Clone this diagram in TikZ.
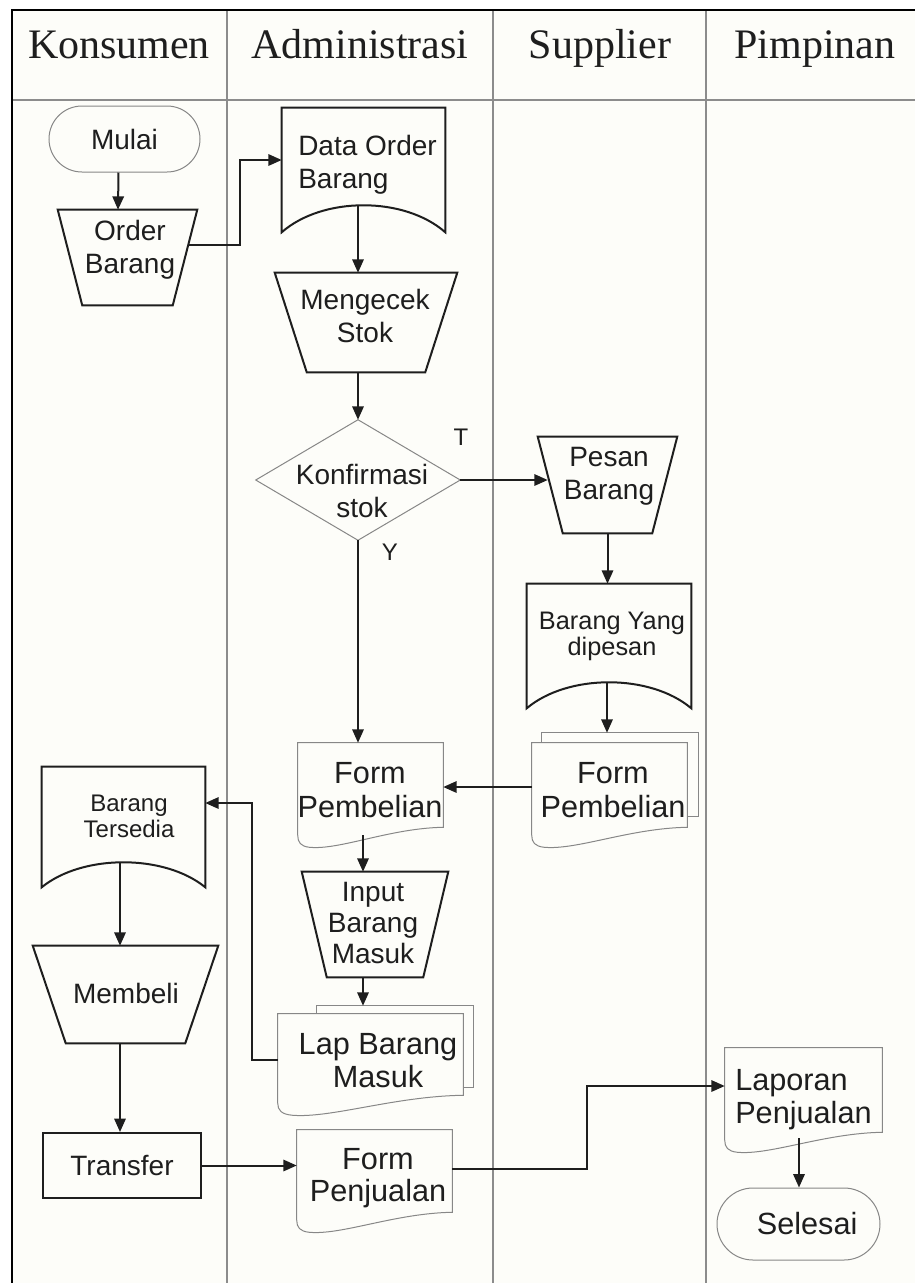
\documentclass[tikz,border=0pt]{standalone}
\usepackage{fontspec}
\setmainfont{Liberation Serif}
\newfontfamily\arialf{Liberation Sans}
\usetikzlibrary{arrows.meta,calc,shapes.misc}
\definecolor{ink}{RGB}{30,30,30}
\definecolor{thingray}{RGB}{135,135,135}
\definecolor{lanegray}{RGB}{140,140,140}
\definecolor{paper}{RGB}{253,253,249}
\def\PX{0.75pt}
% manual operation (trapezoid, wide top): name, inset
\newcommand\manop[2]{%
  \draw[thk] (#1.north west) -- (#1.north east) -- ($(#1.south east)+(-#2,0)$) -- ($(#1.south west)+(#2,0)$) -- cycle;}
% document with arched bottom: name, arch height
\newcommand\docarc[2]{%
  \draw[thk] (#1.south west) -- (#1.north west) -- (#1.north east) -- (#1.south east)
    .. controls ($(#1.south east)!0.25!(#1.south west)+(0,-#2*4/3)$) and ($(#1.south west)!0.25!(#1.south east)+(0,-#2*4/3)$) .. (#1.south west) -- cycle;}
% document with wavy bottom: name
\newcommand\docwave[1]{%
  \draw[thn, fill=paper] (#1.north west) -- (#1.north east) -- (#1.south east)
    .. controls ($(#1.south east)!0.37!(#1.south west)+(0,1)$) and ($(#1.south west)!0.29!(#1.south east)+(0,23)$) .. ($(#1.south west)!0.08!(#1.south east)+(0,20)$)
    .. controls ($(#1.south west)!0.02!(#1.south east)+(0,19)$) and ($(#1.south west)+(0,15)$) .. ($(#1.south west)+(0,8)$) -- cycle;}
% back sheet of a multi-document: name, dx left, dx right, dy top, dy bottom
\newcommand\docback[5]{%
  \draw[thn] ($(#1.north west)+(#2,0)$) -- ++(0,-#4) -| ($(#1.south east)+(#3,-#5)$) -- ($(#1.south east)+(0,-#5)$);}
\begin{document}
\begin{tikzpicture}[x=0.75pt,y=-0.75pt,
  thk/.style={draw=ink, line width=1.5pt},
  thn/.style={draw=thingray, line width=0.75pt},
  lane/.style={draw=lanegray, line width=1.1pt},
  frame/.style={draw=black, line width=1.6pt},
  arr/.style={draw=ink, line width=1.5pt, -{Triangle[length=10pt,width=8.5pt]}},
  box/.style 2 args={rectangle, draw=none, inner sep=0pt, minimum width=#1*\PX, minimum height=#2*\PX},
  term/.style={rounded rectangle, draw=thingray, line width=0.75pt, inner sep=0pt, text=ink},
  txt/.style={inner sep=0pt, align=center, text=ink},
  f21/.style={font=\arialf\fontsize{21}{25}\selectfont},
  f23/.style={font=\arialf\fontsize{23}{25}\selectfont},
  f19/.style={font=\arialf\fontsize{19}{20}\selectfont},
  f18/.style={font=\arialf\fontsize{18}{19.5}\selectfont},
  lbl/.style={inner sep=0pt, text=ink, font=\arialf\fontsize{18}{20}\selectfont},
  hdr/.style={anchor=base, inner sep=0pt, text=ink, font=\fontsize{31.5}{36}\selectfont}
]
\useasboundingbox (0,0) rectangle (915,1283);
\fill[white] (0,0) rectangle (915,1283);
\fill[paper] (12,10) rectangle (915,1283);

% swimlanes
\draw[lane] (227,10) -- (227,1283);
\draw[lane] (493,10) -- (493,1283);
\draw[lane] (706,10) -- (706,1283);
\draw[lane] (12,100) -- (915,100);
\draw[frame] (12,1283) -- (12,10) -- (915,10);

\node[hdr] (hK) at (119,58) {Konsumen};
\node[hdr] (hA) at (360,58) {Administrasi};
\node[hdr] (hS) at (600,58) {Supplier};
\node[hdr] (hP) at (815,58) {Pimpinan};

% ---- Konsumen
\node[term, f21, minimum width=151*\PX, minimum height=66*\PX] (mulai) at (124.5,139) {Mulai};

\node[box={139}{95}] (ob) at (127.5,257.5) {};
\manop{ob}{24.5}
\node[txt, f21] (obT) at (130,249.5) {Order\\Barang};

\node[box={163}{120}] (bt) at (123.5,827) {};
\docarc{bt}{25}
\node[txt, f18] (btT) at (129,816.5) {Barang\\Tersedia};

\node[box={185}{97}] (mb) at (125.5,994.5) {};
\manop{mb}{33}
\node[txt, f21] (mbT) at (126,993) {Membeli};

\node[thk, rectangle, inner sep=0pt, txt, f21, minimum width=158*\PX, minimum height=65*\PX] (tr) at (122,1165.5) {Transfer};

% ---- Administrasi
\node[box={163}{124}] (dob) at (363.5,170) {};
\docarc{dob}{27}
\node[txt, f21, align=left, anchor=west] (dobT) at (298,164.5) {Data Order\\Barang};

\node[box={182}{99}] (mc) at (366,322.5) {};
\manop{mc}{32}
\node[txt, f21] (mcT) at (365,316) {Mengecek\\Stok};

\node[box={204}{120}] (dec) at (358,480) {};
\draw[thn] (dec.north) -- (dec.east) -- (dec.south) -- (dec.west) -- cycle;
\node[txt, f21] (decT) at (362,491) {Konfirmasi\\stok};
\node[lbl] (lT) at (461,437) {T};
\node[lbl] (lY) at (390,552) {Y};

\node[box={145}{84}] (fpa) at (370.5,785) {};
\docwave{fpa}
\node[txt, f23] (fpaT) at (370,790) {Form\\Pembelian};

\node[box={146}{105}] (inp) at (375,924.5) {};
\manop{inp}{25}
\node[txt, font=\arialf\fontsize{21}{23}\selectfont] (inpT) at (373,923) {Input\\Barang\\Masuk};

\node[box={185}{81}] (lbm) at (370.5,1054.5) {};
\docback{lbm}{39}{10}{8}{8}
\docwave{lbm}
\node[txt, f23] (lbmT) at (378,1060.5) {Lap Barang\\Masuk};

\node[box={155}{82}] (fpj) at (374.5,1171) {};
\docwave{fpj}
\node[txt, font=\arialf\fontsize{23}{24}\selectfont] (fpjT) at (378,1178) {Form\\Penjualan};

% ---- Supplier
\node[box={139}{96}] (ps) at (607.5,485) {};
\manop{ps}{25}
\node[txt, f21] (psT) at (609,476.5) {Pesan\\Barang};

\node[box={164}{124}] (byd) at (609,646) {};
\docarc{byd}{26}
\node[txt, f19] (bydT) at (612,636.5) {Barang Yang\\dipesan};

\node[box={155}{84}] (fps) at (609.5,785) {};
\docback{fps}{10}{11}{10}{11}
\docwave{fps}
\node[txt, f23] (fpsT) at (613,790) {Form\\Pembelian};

% ---- Pimpinan
\node[box={157}{84}] (lp) at (803.5,1090) {};
\docwave{lp}
\node[txt, f23, align=left, anchor=west] (lpT) at (735,1099.5) {Laporan\\Penjualan};

\node[term, f23, minimum width=163*\PX, minimum height=72*\PX] (sel) at (798.5,1224) {\hspace*{13pt}Selesai};

% ---- connectors
\draw[arr] ($(mulai.south)+(-6,0)$) -- ($(ob.north)+(-9.5,0)$);
\draw[arr] ($(ob.east)+(-9,-12.5)$) -- ++(52,0) |- ($(dob.west)+(0,-10)$);
\draw[arr] ($(dob.south)+(-5.5,-27)$) -- ($(mc.north)+(-8,0)$);
\draw[arr] (mc.south -| dec.north) -- (dec.north);
\draw[arr] (dec.east) -- ($(dec.east -| ps.west)+(10,0)$);
\draw[arr] (dec.south) -- (dec.south |- fpa.north);
\draw[arr] (ps.south) -- (ps.south |- byd.north);
\draw[arr] ($(byd.south)+(-2,-26)$) -- ($(fps.north)+(-2.5,-10)$);
\draw[arr] ($(fps.west)+(0,2)$) -- ($(fpa.east)+(0,2)$);
\draw[arr] ($(fpa.south)+(-7.5,8)$) -- ($(inp.north)+(-12,0)$);
\draw[arr] ($(inp.south)+(-12,0)$) -- ($(lbm.north)+(-7.5,-8)$);
\draw[arr] ($(lbm.west)+(0,5.5)$) -- ++(-26,0) |- ($(bt.east)+(0,-24)$);
\draw[arr] ($(bt.south)+(-3.5,-25)$) -- ($(mb.north)+(-5.5,0)$);
\draw[arr] ($(mb.south)+(-5.5,0)$) -- ($(tr.north)+(-2,0)$);
\draw[arr] (tr.east) -- (tr.east -| fpj.west);
\draw[arr] ($(fpj.east)+(0,-2)$) -- ++(135,0) |- ($(lp.west)+(0,-4)$);
\draw[arr] ($(lp.south)+(-4.5,6)$) -- ($(sel.north)+(0.5,0)$);
\end{tikzpicture}
\end{document}
